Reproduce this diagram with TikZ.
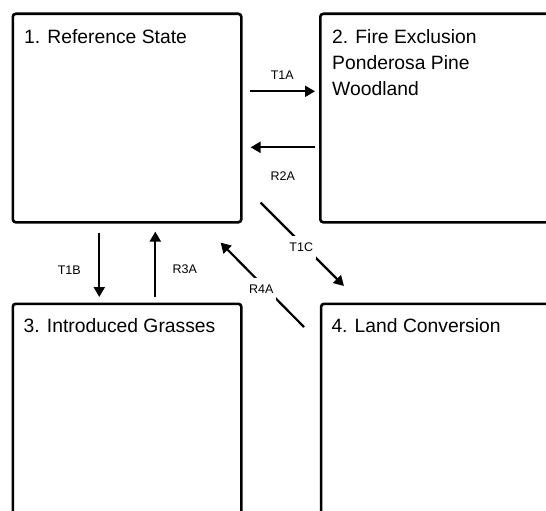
\documentclass[tikz,border=0pt]{standalone}
\usepackage{fontspec}
\setmainfont{Liberation Sans}
\usetikzlibrary{arrows.meta}

\begin{document}
\begin{tikzpicture}[>={Triangle[length=10pt,width=11pt]},x=1pt,y=-1pt,
    statebox/.style={draw,line width=2.6pt,rounded corners=3pt,anchor=north west,
        inner sep=0pt,minimum width=228.5pt,minimum height=208.5pt},
    statename/.style={anchor=base west,inner sep=0pt,
        font=\fontsize{19.3}{26}\selectfont},
    trans/.style={->,line width=2.2pt},
    translabel/.style={font=\fontsize{12.5}{15}\selectfont,inner sep=1pt},
    crosslabel/.style={translabel,fill=white,inner xsep=3pt,inner ysep=7pt}]

    \useasboundingbox (0,0) rectangle (546,511);
    \clip (0,0) rectangle (546,511);

    % States
    \node [statebox] (s1) at (11.5,12.5) {};
    \node [statebox,minimum width=260pt] (s2) at (319,12.5) {};
    \node [statebox,minimum height=240pt] (s3) at (11.5,302.5) {};
    \node [statebox,minimum width=260pt,minimum height=240pt] (s4) at (319.8,302.5) {};

    \node [statename] (n1) at ([xshift=12.5pt,yshift=-31pt]s1.north west) {1. Reference State};
    \node [statename] (n2) at ([xshift=13pt,yshift=-31.5pt]s2.north west)
        {\begin{tabular}[t]{@{}l@{}}2. Fire Exclusion\\Ponderosa Pine\\Woodland\end{tabular}};
    \node [statename] (n3) at ([xshift=12pt,yshift=-29.5pt]s3.north west) {3. Introduced Grasses};
    \node [statename] (n4) at ([xshift=11.5pt,yshift=-29.5pt]s4.north west) {4. Land Conversion};

    % 1 <-> 2
    \draw [trans] ([xshift=7pt,yshift=26.75pt]s1.east) -- ([xshift=-4pt,yshift=26.75pt]s2.west)
        node [translabel,midway,yshift=16pt] (lT1A) {T1A};
    \draw [trans] ([xshift=-4pt,yshift=-29.25pt]s2.west) -- ([xshift=8pt,yshift=-29.25pt]s1.east)
        node [translabel,midway,yshift=-29pt] (lR2A) {R2A};

    % 1 <-> 3
    \draw [trans] ([xshift=-27.75pt,yshift=-9pt]s1.south) -- ([xshift=-27.75pt,yshift=5.5pt]s3.north)
        node [translabel,midway,xshift=-30pt,yshift=-5pt] (lT1B) {T1B};
    \draw [trans] ([xshift=28.25pt,yshift=5.5pt]s3.north) -- ([xshift=28.25pt,yshift=-8pt]s1.south)
        node [translabel,midway,xshift=29.5pt,yshift=-5pt] (lR3A) {R3A};

    % 1 <-> 4
    \draw [trans] ([xshift=18pt,yshift=21pt]s1.south east) -- ([xshift=24.2pt,yshift=16.5pt]s4.north west)
        node [crosslabel,midway,xshift=-1pt,yshift=-3pt] (lT1C) {T1C};
    \draw [trans] ([xshift=-15.8pt,yshift=-24.5pt]s4.north west) -- ([xshift=-22pt,yshift=-19pt]s1.south east)
        node [crosslabel,midway,xshift=-1pt,yshift=-4pt] (lR4A) {R4A};

\end{tikzpicture}
\end{document}
